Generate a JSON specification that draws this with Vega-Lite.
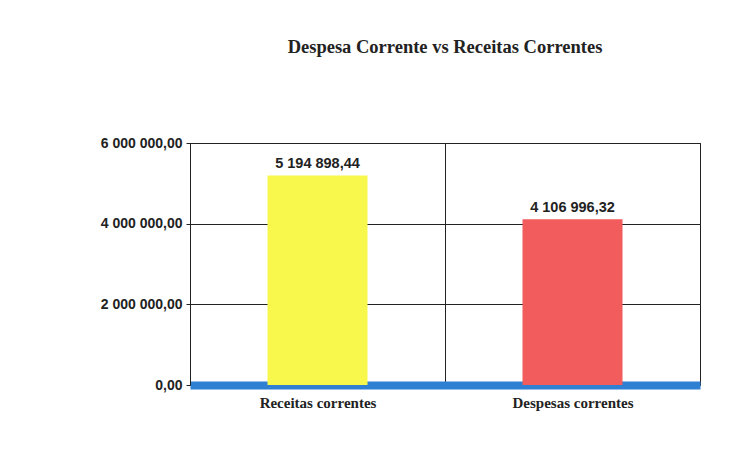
{
  "$schema": "https://vega.github.io/schema/vega-lite/v6.json",
  "width": 510,
  "height": 242,
  "autosize": {"type": "none"},
  "padding": {"left": 190, "top": 143, "right": 31, "bottom": 78},
  "background": "white",
  "config": {
    "locale": {"number": {"decimal": ",", "thousands": " ", "grouping": [3], "currency": ["", ""]}},
    "view": {"stroke": "#222", "strokeWidth": 1}
  },
  "title": {
    "text": "Despesa Corrente vs Receitas Correntes",
    "font": "Liberation Serif",
    "fontSize": 18.5,
    "fontWeight": "bold",
    "color": "#222",
    "anchor": "middle",
    "offset": 80
  },
  "data": {
    "values": [
      {"categoria": "Receitas correntes", "valor": 5194898.44},
      {"categoria": "Despesas correntes", "valor": 4106996.32}
    ]
  },
  "encoding": {
    "x": {
      "field": "categoria",
      "type": "nominal",
      "sort": null,
      "scale": {"paddingInner": 0, "paddingOuter": 0},
      "axis": {
        "title": null,
        "labelAngle": 0,
        "labelFont": "Liberation Serif",
        "labelFontSize": 15,
        "labelFontWeight": "bold",
        "labelColor": "#222",
        "labelPadding": 10,
        "grid": true,
        "gridColor": "#222",
        "gridOpacity": 1,
        "tickBand": "extent",
        "ticks": false,
        "domainColor": "#2F7FD3",
        "domainWidth": 8
      }
    },
    "y": {
      "field": "valor",
      "type": "quantitative",
      "scale": {"domain": [0, 6000000]},
      "axis": {
        "title": null,
        "format": ",.2f",
        "values": [0, 2000000, 4000000, 6000000],
        "labelFont": "Liberation Sans",
        "labelFontSize": 14,
        "labelFontWeight": "bold",
        "labelColor": "#222",
        "grid": true,
        "gridColor": "#222",
        "gridOpacity": 1,
        "domainColor": "#222",
        "tickColor": "#222",
        "tickSize": 4,
        "labelPadding": 4
      }
    }
  },
  "layer": [
    {
      "mark": {"type": "bar", "size": 100},
      "encoding": {
        "color": {
          "field": "categoria",
          "type": "nominal",
          "scale": {"domain": ["Receitas correntes", "Despesas correntes"], "range": ["#F8F84C", "#F25C5C"]},
          "legend": null
        }
      }
    },
    {
      "mark": {"type": "text", "dy": -11, "font": "Liberation Sans", "fontSize": 14.5, "fontWeight": "bold", "color": "#222"},
      "encoding": {
        "text": {"field": "valor", "type": "quantitative", "format": ",.2f"}
      }
    }
  ]
}
